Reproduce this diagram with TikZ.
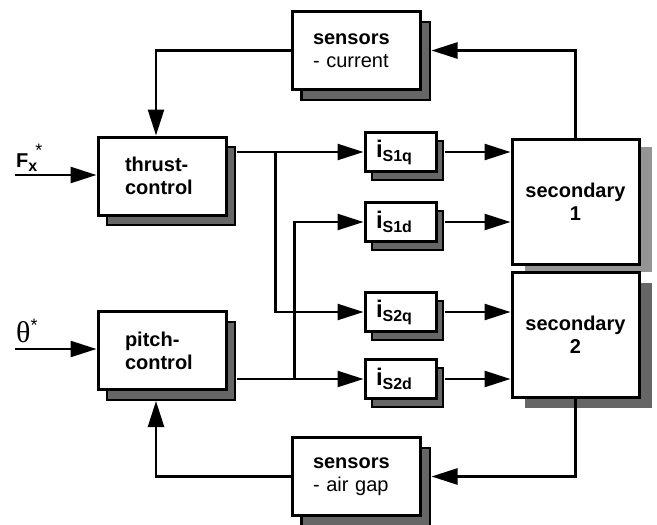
\documentclass[tikz,border=0pt]{standalone}
\usepackage{fontspec}
\setmainfont{Liberation Sans}
\newfontfamily\greekfont{Liberation Serif}
\usetikzlibrary{arrows.meta,calc,shadows}

\tikzset{
	box/.style={draw, line width=3pt, fill=white, inner sep=0pt,
		font=\fontsize{20}{23}\selectfont\bfseries},
	ctrlbox/.style={box, minimum width=128pt, minimum height=78pt, text width=74pt, align=left,
		general shadow={fill=black!60, draw=black, line width=2pt, shadow xshift=9pt, shadow yshift=-10pt}},
	sensbox/.style={ctrlbox, text width=86pt,
		general shadow={fill=black!60, draw=black, line width=2pt, shadow xshift=10pt, shadow yshift=-10pt}},
	curbox/.style={box, minimum width=71pt, minimum height=39pt, text width=49pt, align=left,
		general shadow={fill=black!60, draw=black, line width=2pt, shadow xshift=7pt, shadow yshift=-8pt}},
	secbox/.style={box, minimum width=127pt, minimum height=125pt, align=center},
	conn/.style={line width=2.5pt},
	lbl/.style={inner sep=0pt, font=\fontsize{20}{23}\selectfont}
}
\newcommand{\isub}[1]{{\fontsize{24}{24}\selectfont\bfseries i}\raisebox{-4pt}{\fontsize{16}{16}\selectfont\bfseries #1}}

\begin{document}
\begin{tikzpicture}[x=1pt, y=-1pt, >={Triangle[length=26pt,width=16pt]}]
		%%%%% START %%%%%
		\useasboundingbox (0,0) rectangle (657,525);
		
		\node[sensbox] (curr) at (356,50.5) {sensors\\\mdseries - current};
		\node[ctrlbox] (thrust) at (162,176) {thrust-\\control};
		\node[ctrlbox] (pitch) at (162,350.5) {pitch-\\control};
		\node[sensbox] (airgap) at (356,476.5) {sensors\\\mdseries - air gap};
		
		\node[curbox] (s1q) at (400.5,152) {\isub{S1q}};
		\node[curbox] (s1d) at (400.5,222) {\isub{S1d}};
		\node[curbox] (s2q) at (400.5,312) {\isub{S2q}};
		\node[curbox] (s2d) at (400.5,379) {\isub{S2d}};
		
		\node[secbox, general shadow={fill=black!42, shadow xshift=13pt, shadow yshift=-7pt}] (sec1) at (575.5,202) {secondary\\1};
		\node[secbox, general shadow={fill=black!60, shadow xshift=13pt, shadow yshift=-10pt}] (sec2) at (575.5,335) {secondary\\2};
		
		% set points
		\node[lbl, anchor=base west] (fx) at (16,167) {\textbf{F}\rlap{\raisebox{-4pt}{\fontsize{16}{16}\selectfont\bfseries x}}\hspace{7pt}\raisebox{11pt}{\fontsize{18}{18}\selectfont *}};
		\node[lbl, anchor=base west] (th) at (16,342) {{\greekfont\fontsize{30}{30}\selectfont θ}\raisebox{11pt}{\fontsize{18}{18}\selectfont *}};
		\coordinate (fxin) at (15,175);
		\coordinate (thin) at (15,349);
		\draw[conn,->] (fxin) -- (fxin -| thrust.west);
		\draw[conn,->] (thin) -- (thin -| pitch.west);
		
		% feedback
		\draw[conn,->] (sec1.north) |- ($(curr.east)+(10,0)$);
		\draw[conn,->] (curr.west) -| ($(thrust.north)+(-6,0)$);
		\draw[conn,->] (sec2.south) |- ($(airgap.east)+(10,0)$);
		\draw[conn,->] (airgap.west) -| ($(pitch.south)+(-6,10)$);
		
		% controller outputs
		\coordinate (tout) at ($(thrust.east |- s1q)+(9,0)$);
		\coordinate (tsplit) at ($(tout)+(39,0)$);
		\coordinate (pout) at ($(pitch.east |- s2d)+(9,0)$);
		\coordinate (psplit) at ($(pout)+(58,0)$);
		\draw[conn,->] (tout) -- (s1q.west);
		\draw[conn,->] (tsplit) |- (s2q.west);
		\draw[conn,->] (pout) -- (s2d.west);
		\draw[conn,->] (psplit) |- (s1d.west);
		
		\foreach \n/\m in {s1q/sec1, s1d/sec1, s2q/sec2, s2d/sec2}
			\draw[conn,->] ($(\n.east)+(7,0)$) -- (\n.east -| \m.west);
		
		%%%%% END %%%%%
	\end{tikzpicture}
\end{document}
